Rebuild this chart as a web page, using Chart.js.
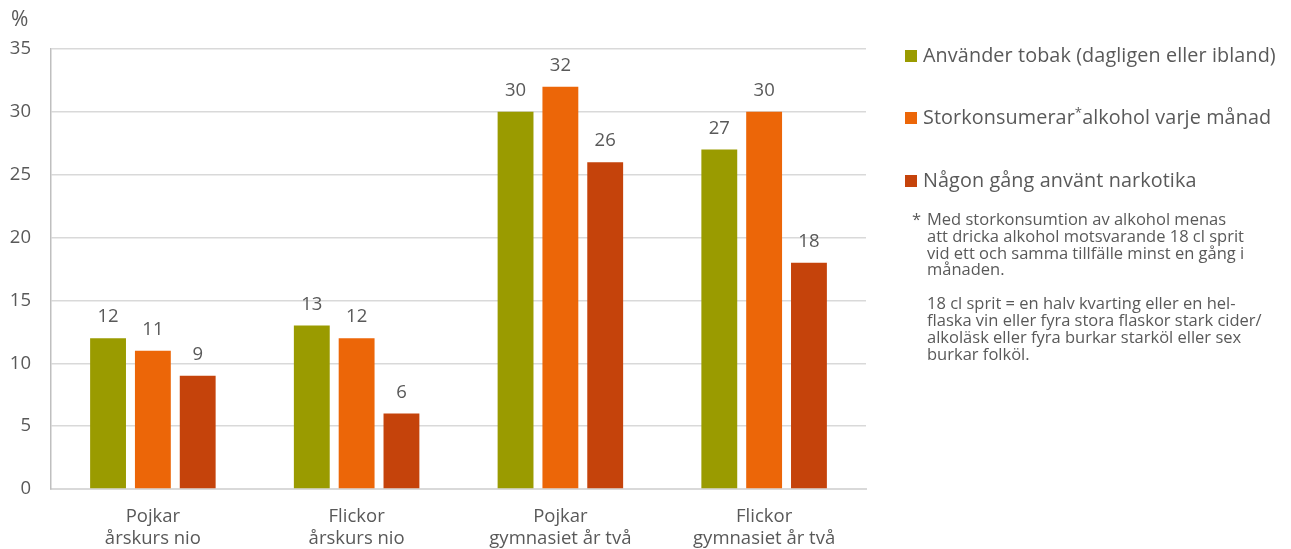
<!DOCTYPE html>
<html><head><meta charset="utf-8">
<script src="https://cdn.jsdelivr.net/npm/chart.js@4"></script>
<style>
html,body{margin:0;padding:0;background:#fff;}
body{width:1291px;height:549px;position:relative;overflow:hidden;font-family:"Open Sans","Noto Sans",sans-serif;color:#595959;}
#wrap{position:absolute;left:0;top:0;width:1291px;height:549px;}
.leg{position:absolute;left:905px;font-size:19.8px;white-space:nowrap;line-height:22px;letter-spacing:0.1px;}
.leg i{display:inline-block;width:12px;height:12px;margin-right:6px;vertical-align:0px;}
.leg sup{font-size:13px;vertical-align:7px;line-height:0;}
#note{position:absolute;left:911px;top:211px;font-size:16.5px;line-height:16.8px;width:385px;}
#note p{margin:0 0 0 16px;position:relative;}
#note p.s{margin-bottom:17px;}
#note span.a{position:absolute;left:-15px;}
</style></head><body>
<div id="wrap"><canvas id="c" width="1291" height="549"></canvas></div>
<div class="leg" style="top:44px"><i style="background:#9a9b00"></i>Använder tobak (dagligen eller ibland)</div>
<div class="leg" style="top:106px"><i style="background:#ec6608"></i>Storkonsumerar<sup>*</sup>alkohol varje månad</div>
<div class="leg" style="top:169px"><i style="background:#c5430b"></i>Någon gång använt narkotika</div>
<div id="note">
<p class="s"><span class="a">*</span>Med storkonsumtion av alkohol menas<br>att dricka alkohol motsvarande 18 cl sprit<br>vid ett och samma tillfälle minst en gång i<br>månaden.</p>
<p>18 cl sprit = en halv kvarting eller en hel-<br>flaska vin eller fyra stora flaskor stark cider/<br>alkoläsk eller fyra burkar starköl eller sex<br>burkar folköl.</p>
</div>
<script>
const categories = [["Pojkar","årskurs nio"],["Flickor","årskurs nio"],["Pojkar","gymnasiet år två"],["Flickor","gymnasiet år två"]];
const seriesNames = ["Använder tobak (dagligen eller ibland)","Storkonsumerar alkohol varje månad","Någon gång använt narkotika"];
const tobak = [12, 13, 30, 27];
const alkohol = [11, 12, 32, 30];
const narkotika = [9, 6, 26, 18];
const yTicks = [0,5,10,15,20,25,30,35];
const colors = ["#9a9b00","#ec6608","#c5430b"];

const FONT = '"Open Sans","Noto Sans",sans-serif';
const labelPlugin = {
  id:'labels',
  afterDatasetsDraw(chart){
    const ctx = chart.ctx;
    ctx.save();
    ctx.font = '18.5px ' + FONT;
    ctx.fillStyle = '#595959';
    ctx.textAlign = 'center';
    ctx.textBaseline = 'bottom';
    chart.data.datasets.forEach((ds,i)=>{
      chart.getDatasetMeta(i).data.forEach((bar,j)=>{
        ctx.fillText(String(ds.data[j]), bar.x, bar.y - 12);
      });
    });
    ctx.font = '21px ' + FONT;
    ctx.textAlign = 'left';
    ctx.textBaseline = 'alphabetic';
    ctx.fillText('%', 11, 26);
    ctx.restore();
  }
};

new Chart(document.getElementById('c'), {
  type:'bar',
  data:{
    labels: categories,
    datasets:[
      {label:seriesNames[0], data:tobak, backgroundColor:colors[0]},
      {label:seriesNames[1], data:alkohol, backgroundColor:colors[1]},
      {label:seriesNames[2], data:narkotika, backgroundColor:colors[2]}
    ]
  },
  options:{
    responsive:false,
    animation:false,
    devicePixelRatio:1,
    layout:{padding:{top:49, right:425, left:0, bottom:0}},
    categoryPercentage:0.66,
    barPercentage:0.8,
    plugins:{legend:{display:false}, tooltip:{enabled:false}},
    scales:{
      x:{
        grid:{display:false, drawTicks:false},
        border:{display:true, color:'#d9d9d9', width:2},
        ticks:{color:'#595959', font:{size:18.5, family:FONT, lineHeight:1.18}, padding:17, maxRotation:0, autoSkip:false},
        afterFit(s){ s.height = 60; }
      },
      y:{
        min:0, max:35,
        afterBuildTicks(s){ s.ticks = yTicks.map(v=>({value:v})); },
        grid:{color:'#d9d9d9', lineWidth:1.5, drawTicks:false},
        border:{display:true, color:'#bfbfbf', width:1.5},
        ticks:{color:'#595959', font:{size:18.5, family:FONT}, padding:20},
        afterFit(s){ s.width = 51; }
      }
    }
  },
  plugins:[labelPlugin]
});
</script>
</body></html>
